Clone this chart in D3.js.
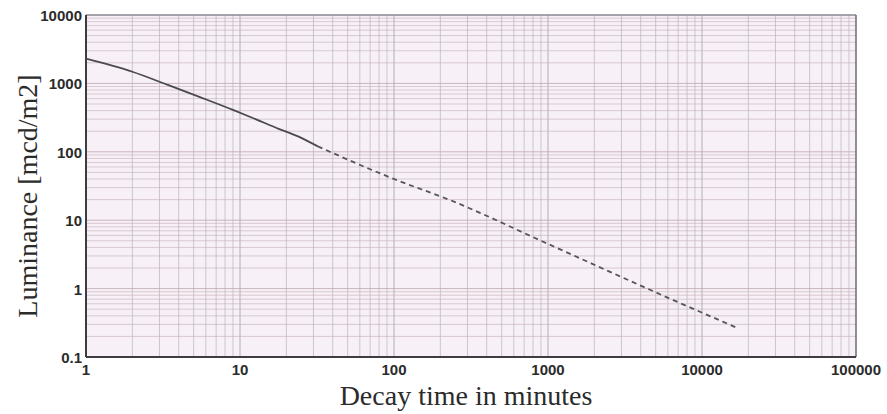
<!DOCTYPE html>
<html>
<head>
<meta charset="utf-8">
<script src="https://cdn.jsdelivr.net/npm/d3@7"></script>
<style>
    body { margin: 0; background: #ffffff; }
    .tick-label { font-family: "Liberation Sans", Arial, sans-serif; font-weight: bold; font-size: 15px; fill: #2b2b2b; }
    .axis-title { font-family: "Liberation Serif", "Times New Roman", serif; font-size: 28px; fill: #2b2b2b; }
</style>
</head>
<body>
<div id="chart"></div>
<script>
// values
const xTicks = [1, 10, 100, 1000, 10000, 100000];
const yTicks = [0.1, 1, 10, 100, 1000, 10000];
const xTickLabels = ["1", "10", "100", "1000", "10000", "100000"];
const yTickLabels = ["0.1", "1", "10", "100", "1000", "10000"];

// measured part (solid)
const solidTime = [1, 2, 3.4, 5.5, 9, 12, 18, 25, 32];
const solidLum = [2300, 1480, 950, 630, 410, 315, 215, 160, 120];

// extrapolated part (dashed)
const dashTime = [32, 100, 231, 1000, 6500, 17000];
const dashLum = [120, 40, 19.7, 4.5, 0.68, 0.265];

const width = 887;
const height = 414;
const plotLeft = 86, plotRight = 856, plotTop = 15, plotBottom = 357;

const svg = d3.select("#chart").append("svg")
    .attr("width", width)
    .attr("height", height);

const x = d3.scaleLog().domain([1, 100000]).range([plotLeft, plotRight]);
const y = d3.scaleLog().domain([0.1, 10000]).range([plotBottom, plotTop]);

// plot background
svg.append("rect")
    .attr("x", plotLeft)
    .attr("y", plotTop)
    .attr("width", plotRight - plotLeft)
    .attr("height", plotBottom - plotTop)
    .attr("fill", "#f7f1f7");

function minorValues(domain) {
    const vals = [];
    for (let p = Math.round(Math.log10(domain[0])); p < Math.round(Math.log10(domain[1])); p++) {
        for (let m = 1; m < 10; m++) {
            vals.push(m * Math.pow(10, p));
        }
    }
    return vals;
}

function isMajor(d) {
    const p = Math.log10(d);
    return Math.abs(p - Math.round(p)) < 1e-9;
}

// vertical grid
svg.append("g")
    .selectAll("line")
    .data(minorValues(x.domain()))
    .enter().append("line")
    .attr("x1", d => x(d))
    .attr("x2", d => x(d))
    .attr("y1", plotTop)
    .attr("y2", plotBottom)
    .attr("stroke", "#a7a2ad")
    .attr("stroke-opacity", d => isMajor(d) ? 0.85 : 0.55)
    .attr("stroke-width", 1);

// horizontal grid
svg.append("g")
    .selectAll("line")
    .data(minorValues(y.domain()))
    .enter().append("line")
    .attr("x1", plotLeft)
    .attr("x2", plotRight)
    .attr("y1", d => y(d))
    .attr("y2", d => y(d))
    .attr("stroke", "#c4adb5")
    .attr("stroke-opacity", d => isMajor(d) ? 0.9 : 0.6)
    .attr("stroke-width", 1);

// frame: top and right lighter, left and bottom dark
svg.append("line")
    .attr("x1", plotLeft).attr("x2", plotRight)
    .attr("y1", plotTop).attr("y2", plotTop)
    .attr("stroke", "#8a8690").attr("stroke-width", 1.5);
svg.append("line")
    .attr("x1", plotRight).attr("x2", plotRight)
    .attr("y1", plotTop).attr("y2", plotBottom)
    .attr("stroke", "#6e6a72").attr("stroke-width", 1.5);
svg.append("line")
    .attr("x1", plotLeft).attr("x2", plotLeft)
    .attr("y1", plotTop).attr("y2", plotBottom)
    .attr("stroke", "#3e3c40").attr("stroke-width", 2);
svg.append("line")
    .attr("x1", plotLeft).attr("x2", plotRight)
    .attr("y1", plotBottom).attr("y2", plotBottom)
    .attr("stroke", "#3e3c40").attr("stroke-width", 2);

// curve
const line = d3.line()
    .x(d => x(d[0]))
    .y(d => y(d[1]))
    .curve(d3.curveMonotoneX);

svg.append("path")
    .datum(d3.zip(solidTime, solidLum))
    .attr("d", line)
    .attr("fill", "none")
    .attr("stroke", "#4a4a4e")
    .attr("stroke-width", 1.8);

svg.append("path")
    .datum(d3.zip(dashTime, dashLum))
    .attr("d", line)
    .attr("fill", "none")
    .attr("stroke", "#55555a")
    .attr("stroke-width", 1.8)
    .attr("stroke-dasharray", "5,4");

// tick labels
svg.append("g")
    .selectAll("text")
    .data(xTicks)
    .enter().append("text")
    .classed("tick-label", true)
    .attr("x", d => x(d))
    .attr("y", plotBottom + 18)
    .attr("text-anchor", "middle")
    .text((d, i) => xTickLabels[i]);

svg.append("g")
    .selectAll("text")
    .data(yTicks)
    .enter().append("text")
    .classed("tick-label", true)
    .attr("x", plotLeft - 4)
    .attr("y", d => y(d) + 6)
    .attr("text-anchor", "end")
    .text((d, i) => yTickLabels[i]);

// axis titles
svg.append("text")
    .classed("axis-title", true)
    .attr("x", 466)
    .attr("y", 405)
    .attr("text-anchor", "middle")
    .text("Decay time in minutes");

svg.append("text")
    .classed("axis-title", true)
    .attr("transform", "translate(37,196) rotate(-90)")
    .attr("text-anchor", "middle")
    .text("Luminance [mcd/m2]");
</script>
</body>
</html>
